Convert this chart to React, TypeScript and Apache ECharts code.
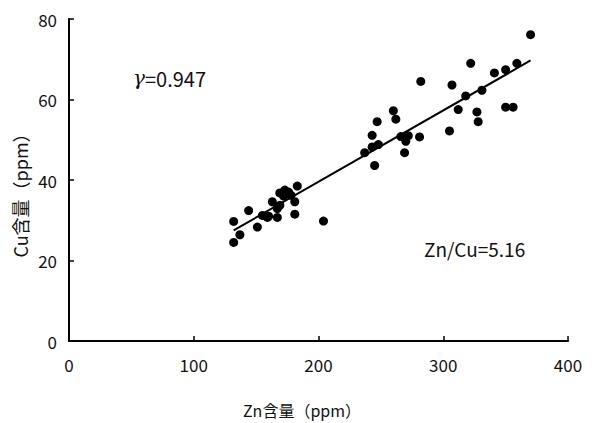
import React, { useEffect, useRef } from "react";
import * as echarts from "echarts";

const znValues = [370, 322, 359, 350, 341, 282, 307, 331, 318, 350, 356, 312, 260, 327, 262, 247, 328, 305, 243, 266, 272, 281, 270, 248, 243, 237, 269, 245, 183, 173, 169, 178, 181, 163, 169, 167, 144, 181, 155, 159, 167, 132, 204, 151, 137, 132, 176, 172, 160];
const cuValues = [76.1, 69.0, 69.0, 67.4, 66.6, 64.5, 63.6, 62.3, 60.9, 58.1, 58.1, 57.5, 57.2, 56.9, 55.1, 54.5, 54.5, 52.2, 51.1, 50.8, 51.0, 50.7, 49.6, 48.8, 48.2, 46.8, 46.8, 43.6, 38.5, 37.5, 36.8, 36.2, 34.6, 34.6, 33.7, 32.9, 32.4, 31.5, 31.2, 30.7, 30.7, 29.7, 29.8, 28.3, 26.4, 24.5, 37.0, 36.0, 31.0];
const fitLine = [[132, 27.5], [370, 69.7]];
const xTicks = [0, 100, 200, 300, 400];
const yTicks = [0, 20, 40, 60, 80];
const xName = "Zn含量（ppm）";
const yName = "Cu含量（ppm）";
const rValue = "=0.947";
const ratioText = "Zn/Cu=5.16";

export default function App() {
  const ref = useRef<HTMLDivElement>(null);
  useEffect(() => {
    if (!ref.current) return;
    const chart = echarts.init(ref.current, null, { renderer: "svg" });
    const font = "'Noto Sans CJK JP', 'Noto Sans', sans-serif";
    chart.setOption({
      animation: false,
      backgroundColor: "#fff",
      grid: { left: 69, right: 27, top: 19, bottom: 82 },
      xAxis: {
        type: "value",
        min: xTicks[0],
        max: xTicks[xTicks.length - 1],
        interval: 100,
        axisLine: { lineStyle: { color: "#000", width: 2 } },
        axisTick: { inside: true, length: 5, lineStyle: { color: "#000", width: 1.5 } },
        axisLabel: { fontFamily: font, fontSize: 17, color: "#111", margin: 15 },
        splitLine: { show: false },
      },
      yAxis: {
        type: "value",
        min: yTicks[0],
        max: yTicks[yTicks.length - 1],
        interval: 20,
        axisLine: { show: true, lineStyle: { color: "#000", width: 2 } },
        axisTick: { show: true, inside: true, length: 5, lineStyle: { color: "#000", width: 1.5 } },
        axisLabel: { fontFamily: font, fontSize: 17, color: "#111", margin: 12 },
        splitLine: { show: false },
      },
      series: [
        {
          type: "scatter",
          data: znValues.map((z, i) => [z, cuValues[i]]),
          symbol: "circle",
          symbolSize: 9,
          itemStyle: { color: "#000", opacity: 1 },
          z: 3,
        },
        {
          type: "line",
          data: fitLine,
          symbol: "none",
          lineStyle: { color: "#000", width: 2 },
          z: 2,
        },
      ],
      graphic: [
        {
          type: "text",
          left: 133,
          top: 68,
          style: {
            text: "{g|γ}" + rValue,
            fontFamily: font,
            fontSize: 20,
            fill: "#111",
            rich: { g: { fontFamily: "'DejaVu Serif', serif", fontStyle: "italic", fontSize: 20, fill: "#111" } },
          },
        },
        { type: "text", left: 424, top: 239, style: { text: ratioText, fontFamily: font, fontSize: 19, fill: "#111" } },
        {
          type: "text",
          x: 302,
          y: 410,
          style: { text: xName, fontFamily: font, fontSize: 16, fill: "#111", align: "center", verticalAlign: "middle" },
        },
        {
          type: "text",
          x: 20,
          y: 191,
          rotation: Math.PI / 2,
          style: { text: yName, fontFamily: font, fontSize: 18, fill: "#111", align: "center", verticalAlign: "middle" },
        },
      ],
    });
    return () => chart.dispose();
  }, []);
  return <div ref={ref} style={{ width: 595, height: 423, position: "absolute", left: 0, top: 0 }} />;
}
